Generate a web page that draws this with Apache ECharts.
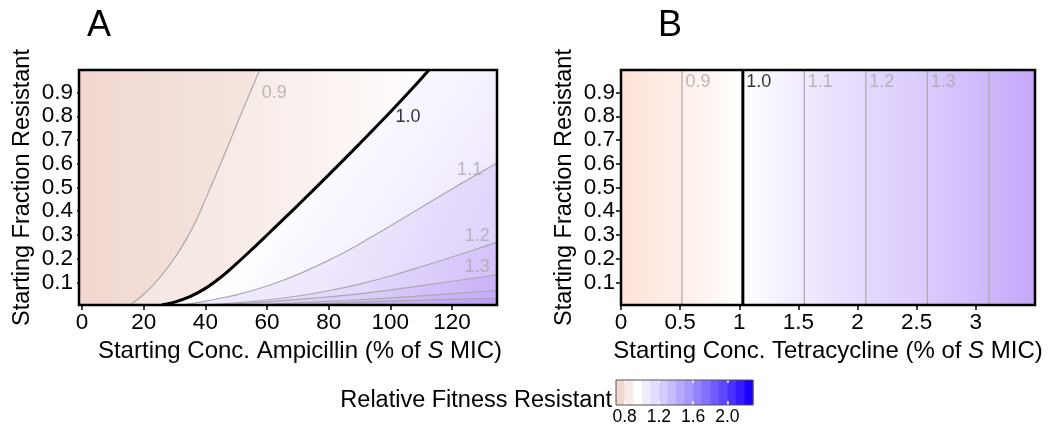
<!DOCTYPE html>
<html><head><meta charset="utf-8">
<script src="https://cdn.jsdelivr.net/npm/echarts@6/dist/echarts.min.js"></script>
<style>html,body{margin:0;padding:0;background:#fff}#c{width:1049px;height:429px}</style>
</head><body><div id="c"></div>
<script>
// ---------------- data ----------------
const ampXTicks = [0, 20, 40, 60, 80, 100, 120];
const fracTicks = [0.1, 0.2, 0.3, 0.4, 0.5, 0.6, 0.7, 0.8, 0.9];
const tetXTicks = [0, 0.5, 1, 1.5, 2, 2.5, 3];
const legendTicks = [0.8, 1.2, 1.6, 2.0];

// Panel A: contour lines of relative fitness (x = % of S MIC ampicillin, y = starting fraction resistant)
const ampLevels = [0.9, 1.0, 1.1, 1.2, 1.3, 1.4, 1.5];
const ampC09 = [[15.5,0.005],[18,0.028],[20,0.05],[22.5,0.081],[25,0.118],[27.5,0.158],[30,0.203],[32.5,0.253],[35,0.31],[37.5,0.375],[40,0.45],[42.5,0.525],[45,0.602],[47.5,0.68],[50,0.76],[52.5,0.838],[55,0.915],[57.6,0.995]];
const ampC10 = [[25.8,0.005],[30,0.017],[35,0.04],[40,0.075],[45,0.122],[50,0.178],[55,0.238],[60,0.30],[70,0.425],[80,0.553],[90,0.684],[100,0.818],[107.5,0.922],[112.5,0.995]];
const ampC11 = [[33,0.005],[35,0.01],[40,0.021],[45,0.034],[50,0.048],[55,0.065],[60,0.085],[65,0.108],[70,0.134],[75,0.163],[80,0.193],[85,0.226],[90,0.262],[95,0.3],[100,0.338],[105,0.377],[110,0.416],[115,0.455],[120,0.494],[125,0.532],[130,0.569],[134.6,0.603]];
const ampC12 = [[40,0.005],[50,0.014],[60,0.026],[70,0.043],[80,0.065],[90,0.093],[100,0.127],[110,0.166],[120,0.207],[127.5,0.239],[134.6,0.27]];
const ampC13 = [[45,0.005],[60,0.018],[75,0.034],[90,0.052],[105,0.077],[120,0.105],[134.6,0.132]];
const ampC14 = [[55,0.005],[85.8,0.024],[107.5,0.041],[134.6,0.066]];
const ampC15 = [[70,0.005],[96.7,0.02],[134.6,0.034]];
const ampContours = [ampC09, ampC10, ampC11, ampC12, ampC13, ampC14, ampC15];
const ampLabelText = ['0.9', '1.0', '1.1', '1.2', '1.3'];
const ampLabelAt = [[58.1,0.898],[101.5,0.797],[121.5,0.574],[124,0.296],[124,0.166]];

// Panel B: contour positions (x = % of S MIC tetracycline), vertical lines
const tetLevels = [0.9, 1.0, 1.1, 1.2, 1.3, 1.4];
const tetContourX = [0.515, 1.03, 1.55, 2.07, 2.59, 3.11];
const tetLabelText = ['0.9', '1.0', '1.1', '1.2', '1.3'];
const tetLabelY = 0.945;

// Colour key breaks
const legendBreaks = [0.7,0.8,0.9,1.0,1.1,1.2,1.3,1.4,1.5,1.6,1.7,1.8,1.9,2.0,2.1,2.2,2.3];

// axis extents
const A_XMIN = -1, A_XMAX = 134.6, YMIN = 0.005, YMAX = 0.995, B_XMIN = 0, B_XMAX = 3.5;

// ---------------- styles ----------------
const FONT = '"Liberation Sans", Arial, Helvetica, sans-serif';
const GRAY = '#a9a9a9';
const SMOOTH = 0.35;
const lin = (x2, y2, stops) => ({type:'linear', x:0, y:0, x2, y2, global:false,
  colorStops: stops.map(([o, c]) => ({offset:o, color:c}))});
const ampBaseFill = lin(1, 0, [[0,'#f0d7cf'],[0.45,'#f6e6e1'],[1,'#fbf3f0']]);
const ampBandFills = [
  lin(1, 0, [[0,'#f5e6e1'],[0.35,'#f8ece8'],[0.65,'#fdf8f7'],[0.85,'#ffffff'],[1,'#ffffff']]),
  lin(1, 1, [[0,'#ffffff'],[0.42,'#ffffff'],[0.55,'#f9f6ff'],[0.8,'#f0e9fe'],[1,'#eae2fd']]),
  lin(1, 1, [[0,'#efe8fe'],[0.5,'#efe8fe'],[0.75,'#e5dafc'],[1,'#dccffb']]),
  lin(1, 1, [[0,'#e5dafc'],[0.5,'#e5dafc'],[0.75,'#dccdfb'],[1,'#d3c0fa']]),
  lin(1, 1, [[0,'#dccdfb'],[0.5,'#dccdfb'],[0.75,'#d3c0fa'],[1,'#c9b2f9']]),
  lin(1, 1, [[0,'#d3c0fa'],[0.5,'#d3c0fa'],[1,'#c6acf9']]),
  lin(1, 1, [[0,'#c9b3fa'],[0.5,'#c9b3fa'],[1,'#bd9ff8']])
];
const tetFillColors = ['#fde3d8','#feeee8','#ffffff','#f0e9fe','#e5d9fd','#dacafc','#ceb8fb','#c4a6fa'];
const legendColors = ['#efd7cf','#f7e9e5','#ffffff','#f0edff','#e2ddff','#d4ccff','#c5bbff','#b6aaff','#a698ff','#9584ff','#8370ff','#715cff','#5e47ff','#4a31ff','#351aff','#1c00ff'];

const txt = (size, extra) => Object.assign({fontSize:size, fontFamily:FONT, color:'#000'}, extra || {});

// ---------------- build series ----------------
const series = [];
// Panel A background
series.push({type:'line', xAxisIndex:0, yAxisIndex:0, data:[[A_XMIN,YMAX],[A_XMAX,YMAX]],
  symbol:'none', silent:true, lineStyle:{opacity:0}, areaStyle:{origin:'start', color:ampBaseFill, opacity:1}, z:1});
// Panel A fitness bands (region beyond each contour)
ampContours.forEach((pts, i) => {
  const d = pts.slice();
  const last = pts[pts.length - 1];
  if (last[1] >= YMAX - 1e-6 && last[0] < A_XMAX) d.push([A_XMAX, YMAX]);
  series.push({type:'line', xAxisIndex:0, yAxisIndex:0, data:d, symbol:'none', silent:true,
    smooth:SMOOTH,
    lineStyle:{opacity:0}, areaStyle:{origin:'start', color:ampBandFills[i], opacity:1}, z:1});
});
// Panel A contour lines
ampContours.forEach((pts, i) => {
  const one = ampLevels[i] === 1.0;
  series.push({type:'line', xAxisIndex:0, yAxisIndex:0, data:pts, symbol:'none', silent:true,
    smooth:SMOOTH,
    lineStyle:{color: one ? '#000' : GRAY, width: one ? 3 : 1.2}, z: one ? 4 : 3});
});
// Panel A contour labels
series.push({type:'scatter', xAxisIndex:0, yAxisIndex:0, symbolSize:1, silent:true, z:5,
  itemStyle:{color:'rgba(0,0,0,0)'},
  data: ampLabelAt.map((p, i) => ({value:p, label:{show:true, position:'right', distance:0,
    formatter: ampLabelText[i], fontSize:18, fontFamily:FONT, color: ampLabelText[i] === '1.0' ? '#000' : GRAY}}))});

// Panel B background gradient from contour positions
const tetStops = [[0, tetFillColors[0]]];
tetContourX.forEach((x, i) => tetStops.push([(x - B_XMIN) / (B_XMAX - B_XMIN), tetFillColors[i + 1]]));
tetStops.push([1, tetFillColors[tetFillColors.length - 1]]);
series.push({type:'line', xAxisIndex:1, yAxisIndex:1, data:[[B_XMIN,YMAX],[B_XMAX,YMAX]],
  symbol:'none', silent:true, lineStyle:{opacity:0}, areaStyle:{origin:'start', color:lin(1, 0, tetStops), opacity:1}, z:1});
tetContourX.forEach((x, i) => {
  const one = tetLevels[i] === 1.0;
  series.push({type:'line', xAxisIndex:1, yAxisIndex:1, data:[[x,YMIN],[x,YMAX]], symbol:'none', silent:true,
    lineStyle:{color: one ? '#000' : GRAY, width: one ? 3 : 1.2}, z: one ? 4 : 3});
});
series.push({type:'scatter', xAxisIndex:1, yAxisIndex:1, symbolSize:1, silent:true, z:5,
  itemStyle:{color:'rgba(0,0,0,0)'},
  data: tetLabelText.map((t, i) => ({value:[tetContourX[i], tetLabelY], label:{show:true, position:'right', distance:3,
    formatter: t, fontSize:18, fontFamily:FONT, color: t === '1.0' ? '#000' : GRAY}}))});

// Colour key
series.push({type:'custom', xAxisIndex:2, yAxisIndex:2, silent:true, z:2,
  data: legendBreaks.slice(0, -1).map((b, i) => [b, legendBreaks[i + 1]]),
  renderItem: (params, api) => {
    const p0 = api.coord([api.value(0), 1]);
    const p1 = api.coord([api.value(1), 0]);
    return {type:'rect', shape:{x:p0[0], y:p0[1], width:p1[0] - p0[0] + 0.5, height:p1[1] - p0[1]},
      style:{fill: legendColors[params.dataIndex]}};
  }});

// ---------------- axes ----------------
const tickStyle = {color:'#000', width:1.5};
const xName = (drug, shift) => ({
  name: 'Starting Conc. ' + drug + ' (% of {it|S} MIC)', nameLocation:'middle', nameGap:25,
  nameTextStyle: txt(24, {padding:[0,0,0,shift], rich:{it: txt(24, {fontStyle:'italic'})}})
});
const yCommon = (grid) => ({gridIndex:grid, type:'value', min:YMIN, max:YMAX,
  axisLine:{show:false}, splitLine:{show:false},
  axisTick:{show:true, length:5, lineStyle:tickStyle, customValues:fracTicks},
  axisLabel:Object.assign(txt(22.5), {customValues:fracTicks, margin:6}),
  name:'Starting Fraction Resistant', nameLocation:'middle', nameGap:44, nameTextStyle:txt(23.5)});

const option = {
  animation:false,
  backgroundColor:'#fff',
  title:[
    {text:'A', left:87, top:8, padding:0, textStyle:txt(36, {fontWeight:'normal'})},
    {text:'B', left:658, top:8, padding:0, textStyle:txt(36, {fontWeight:'normal'})},
    {text:'Relative Fitness Resistant', right:437, top:389, padding:0, textStyle:txt(23.5, {fontWeight:'normal'})}
  ],
  grid:[
    {left:79, top:70, width:418, height:235, show:true, borderColor:'#000', borderWidth:2.5, backgroundColor:'transparent', z:10},
    {left:621, top:70, width:414, height:235, show:true, borderColor:'#000', borderWidth:2.5, backgroundColor:'transparent', z:10},
    {left:616, top:380, width:137, height:25, show:true, borderColor:'#555', borderWidth:1, backgroundColor:'transparent', z:10}
  ],
  xAxis:[
    Object.assign({gridIndex:0, type:'value', min:A_XMIN, max:A_XMAX, axisLine:{show:false}, splitLine:{show:false},
      axisTick:{show:true, length:5, lineStyle:tickStyle, customValues:ampXTicks},
      axisLabel:Object.assign(txt(22.5), {customValues:ampXTicks, margin:6})}, xName('Ampicillin', 24)),
    Object.assign({gridIndex:1, type:'value', min:B_XMIN, max:B_XMAX, axisLine:{show:false}, splitLine:{show:false},
      axisTick:{show:true, length:5, lineStyle:tickStyle, customValues:tetXTicks},
      axisLabel:Object.assign(txt(22.5), {customValues:tetXTicks, margin:6})}, xName('Tetracycline', 0)),
    {gridIndex:2, type:'value', min:legendBreaks[0], max:legendBreaks[legendBreaks.length - 1], z:6,
      axisLine:{show:false}, splitLine:{show:false},
      axisTick:{show:true, inside:true, length:4, lineStyle:{color:'#fff', width:1.5}, customValues:legendTicks},
      axisLabel:Object.assign(txt(17.5), {customValues:legendTicks, margin:3, formatter:v => Number(v).toFixed(1)})},
    {gridIndex:2, type:'value', position:'top', min:legendBreaks[0], max:legendBreaks[legendBreaks.length - 1], z:6,
      axisLine:{show:false}, splitLine:{show:false},
      axisTick:{show:true, inside:true, length:3, lineStyle:{color:'#fff', width:1.5}, customValues:legendTicks},
      axisLabel:{show:false}}
  ],
  yAxis:[
    yCommon(0), yCommon(1),
    {gridIndex:2, type:'value', min:0, max:1, show:false}
  ],
  series
};
const chart = echarts.init(document.getElementById('c'), null, {renderer:'canvas'});
chart.setOption(option);
</script></body></html>
